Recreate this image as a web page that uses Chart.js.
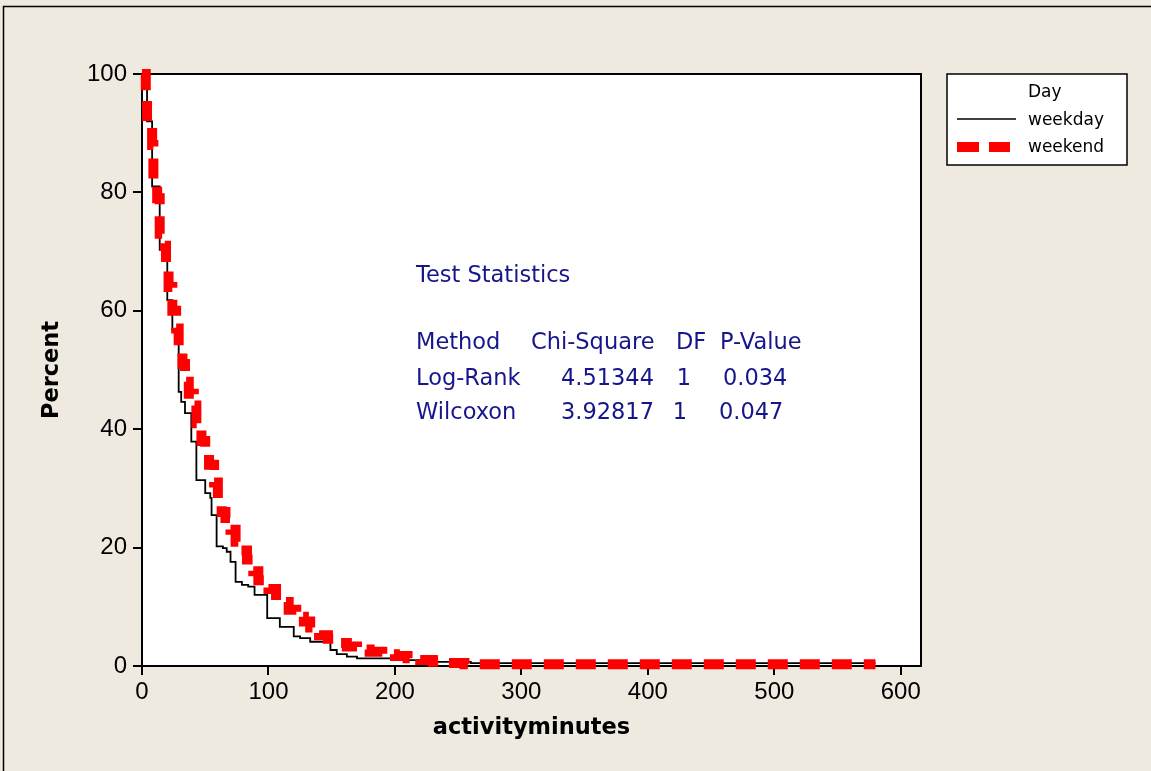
<!DOCTYPE html>
<html>
<head>
<meta charset="utf-8">
<script src="https://cdn.jsdelivr.net/npm/chart.js@4.4.1/dist/chart.umd.min.js"></script>
<style>
  html, body { margin: 0; padding: 0; background: #EEEAE0; }
  #wrap { position: relative; width: 1151px; height: 771px; }
</style>
</head>
<body>
<div id="wrap"><canvas id="kmChart" width="1151" height="771"></canvas></div>
<script>
// -------------------------------
// DATA
// -------------------------------
const xTicks = [0, 100, 200, 300, 400, 500, 600];
const yTicks = [0, 20, 40, 60, 80, 100];

const weekdayTimes = [0, 4, 8, 14, 16, 20, 24, 29, 31, 34, 39, 43, 50, 54, 55, 59, 64, 67, 70, 74, 79, 84, 89, 99, 109, 120, 125, 133, 149, 154, 162, 170, 201, 230, 260, 580];
const weekdayPct   = [100, 92, 81, 70.3, 69.5, 61.8, 56.8, 46.3, 44.6, 42.7, 37.9, 31.4, 29.2, 28.4, 25.5, 20.2, 19.9, 19.3, 17.6, 14.2, 13.7, 13.4, 12.0, 8.1, 6.6, 5.0, 4.7, 4.1, 2.7, 2.0, 1.6, 1.3, 1.0, 0.7, 0.5, 0.5];

const weekendTimes = [0, 3, 4, 8, 9, 12, 14, 18, 19, 21, 24, 27, 29, 32, 34, 37, 41, 43, 47, 50, 53, 57, 60, 63, 66, 70, 74, 78, 83, 88, 92, 97, 100, 106, 110, 116, 122, 128, 133, 140, 147, 155, 162, 170, 180, 190, 200, 210, 220, 230, 240, 255, 580];
const weekendPct   = [100, 96, 92, 88, 82, 79, 73, 71, 68, 64, 60, 57, 54, 51, 48, 46, 44, 41, 38, 36, 34, 31, 28, 26, 25, 23, 21, 19.5, 18, 16, 14.5, 13.5, 13, 12, 10.8, 9.5, 8.3, 7.5, 6.5, 5.2, 4.6, 3.9, 3.3, 2.8, 2.4, 2.0, 1.7, 1.3, 1.0, 0.7, 0.5, 0.3, 0.3];

const seriesNames = ["weekday", "weekend"];
const legendTitle = "Day";

const statsTitle = "Test Statistics";
const statsHeader = ["Method", "Chi-Square", "DF", "P-Value"];
const statsRows = [
    ["Log-Rank", "4.51344", "1", "0.034"],
    ["Wilcoxon", "3.92817", "1", "0.047"]
];

const BG = "#EEEAE0";
const NAVY = "#16168a";
const TXT = "'Liberation Sans', Arial, sans-serif";
const WIDE = "'DejaVu Sans', sans-serif";

// -------------------------------
// PAPER, FRAME, LEGEND, STATS
// -------------------------------
const paperPlugin = {
    id: "paper",
    beforeDraw(chart) {
        const c = chart.ctx, a = chart.chartArea;
        c.save();
        c.fillStyle = BG;
        c.fillRect(0, 0, chart.width, chart.height);
        c.strokeStyle = "#000";
        c.lineWidth = 1.5;
        c.beginPath();
        c.moveTo(3.5, chart.height);
        c.lineTo(3.5, 6.5);
        c.lineTo(chart.width, 6.5);
        c.stroke();
        c.fillStyle = "#fff";
        c.fillRect(a.left, a.top, a.right - a.left, a.bottom - a.top);
        c.restore();
    },
    beforeDatasetsDraw(chart) {
        const c = chart.ctx, a = chart.chartArea;
        c.save();
        c.strokeStyle = "#000";
        c.lineWidth = 2;
        c.strokeRect(a.left, a.top, a.right - a.left, a.bottom - a.top);
        c.restore();
    }
};

const notesPlugin = {
    id: "notes",
    afterDraw(chart) {
        const c = chart.ctx;
        c.save();

        // stats block
        c.fillStyle = NAVY;
        c.font = "22.5px " + WIDE;
        c.textBaseline = "middle";
        c.textAlign = "left";
        c.fillText(statsTitle, 416, 276);
        const headX = [416, 531, 676, 720];
        headX.forEach((x, i) => c.fillText(statsHeader[i], x, 343));
        const rowY = [379, 413];
        statsRows.forEach((row, r) => {
            c.textAlign = "left";
            c.fillText(row[0], 416, rowY[r]);
            c.textAlign = "right";
            c.fillText(row[1], 654, rowY[r]);
            c.textAlign = "center";
            c.fillText(row[2], r === 0 ? 684 : 680, rowY[r]);
            c.textAlign = "left";
            c.fillText(row[3], r === 0 ? 723 : 719, rowY[r]);
        });

        // legend box
        c.fillStyle = "#fff";
        c.fillRect(947, 74, 180, 91);
        c.strokeStyle = "#000";
        c.lineWidth = 1.5;
        c.strokeRect(947, 74, 180, 91);

        c.fillStyle = "#000";
        c.font = "17px " + WIDE;
        c.textAlign = "left";
        c.fillText(legendTitle, 1028, 93);
        c.fillText(seriesNames[0], 1028, 121);
        c.fillText(seriesNames[1], 1028, 148);

        c.lineWidth = 1.5;
        c.beginPath();
        c.moveTo(957, 119);
        c.lineTo(1016, 119);
        c.stroke();

        c.strokeStyle = "#ff0000";
        c.lineWidth = 10;
        c.setLineDash([22, 10]);
        c.beginPath();
        c.moveTo(957, 147);
        c.lineTo(1010, 147);
        c.stroke();

        c.restore();
    }
};

// -------------------------------
// CHART
// -------------------------------
const toPoints = (xs, ys) => xs.map((t, i) => ({ x: t, y: ys[i] }));

new Chart(document.getElementById("kmChart"), {
    type: "line",
    data: {
        datasets: [
            {
                label: seriesNames[1],
                data: toPoints(weekendTimes, weekendPct),
                borderColor: "#ff0000",
                borderWidth: 10,
                borderDash: [20, 12],
                stepped: true,
                pointRadius: 0,
                fill: false,
                clip: false,
                order: 0
            },
            {
                label: seriesNames[0],
                data: toPoints(weekdayTimes, weekdayPct),
                borderColor: "#000000",
                borderWidth: 1.8,
                stepped: true,
                pointRadius: 0,
                fill: false,
                order: 1
            }
        ]
    },
    options: {
        responsive: false,
        animation: false,
        events: [],
        layout: { padding: { left: 0, top: 74, right: 230, bottom: 0 } },
        plugins: {
            legend: { display: false },
            tooltip: { enabled: false }
        },
        scales: {
            x: {
                type: "linear",
                min: 0,
                max: 616,
                afterBuildTicks: s => { s.ticks = xTicks.map(v => ({ value: v })); },
                afterFit: s => { s.height = 105; },
                border: { display: false },
                grid: { drawOnChartArea: false, drawTicks: true, tickLength: 9, color: "#000", lineWidth: 2 },
                ticks: { color: "#000", padding: 3, maxRotation: 0, font: { family: TXT, size: 24 } },
                title: {
                    display: true,
                    text: "activityminutes",
                    color: "#000",
                    font: { family: WIDE, size: 22.5, weight: "bold" },
                    padding: { top: 0, bottom: 29 }
                }
            },
            y: {
                type: "linear",
                min: 0,
                max: 100,
                afterBuildTicks: s => { s.ticks = yTicks.map(v => ({ value: v })); },
                afterFit: s => { s.width = 142; },
                border: { display: false },
                grid: { drawOnChartArea: false, drawTicks: true, tickLength: 9, color: "#000", lineWidth: 2 },
                ticks: { color: "#000", padding: 6, font: { family: TXT, size: 24 } },
                title: {
                    display: true,
                    text: "Percent",
                    color: "#000",
                    font: { family: WIDE, size: 22.5, weight: "bold" },
                    padding: { top: 39, bottom: 0 }
                }
            }
        }
    },
    plugins: [paperPlugin, notesPlugin]
});
</script>
</body>
</html>
